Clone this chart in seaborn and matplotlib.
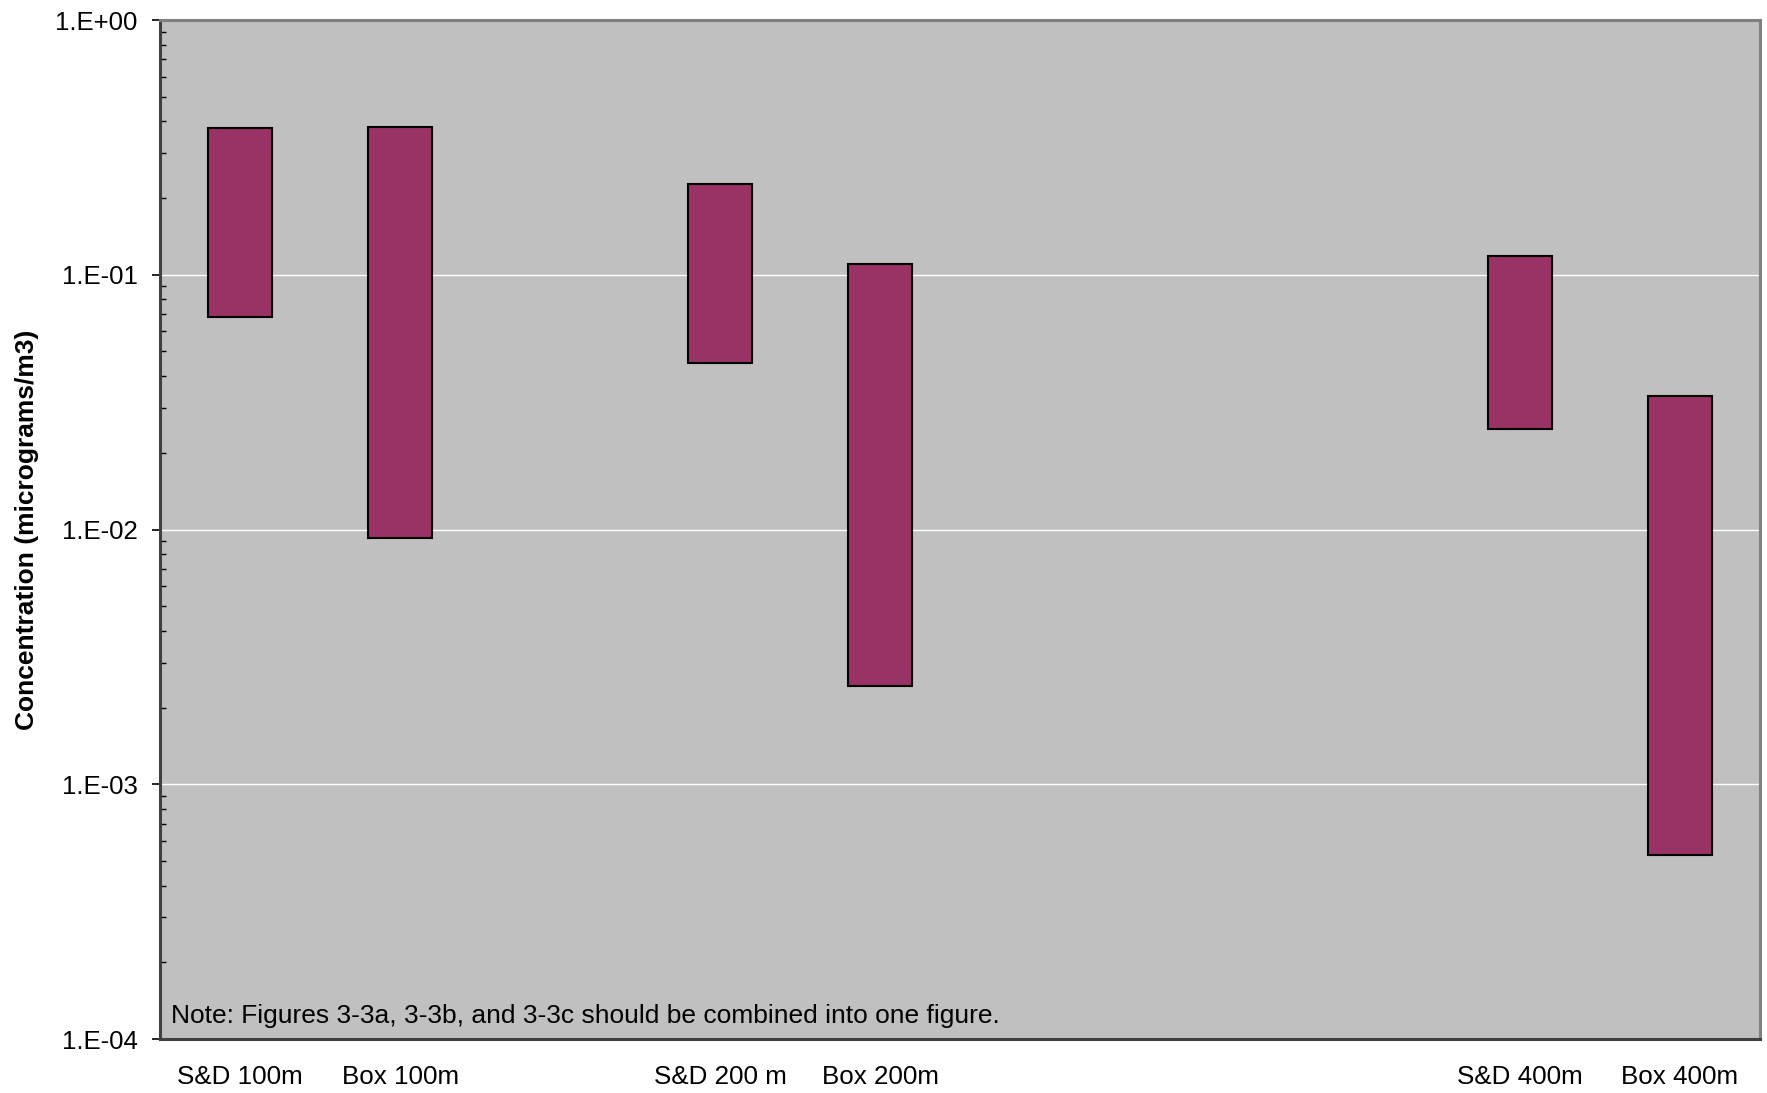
import matplotlib
matplotlib.use("Agg")
import matplotlib.pyplot as plt
import matplotlib.ticker as mticker
import seaborn as sns
import pandas as pd
import numpy as np

# Data
categories = ["S&D 100m", "Box 100m", " ", "S&D 200 m", "Box 200m", "  ", "   ", "    ", "S&D 400m", "Box 400m"]
bar_labels = ["S&D 100m", "Box 100m", "S&D 200 m", "Box 200m", "S&D 400m", "Box 400m"]
high_values = [0.376, 0.380, 0.228, 0.110, 0.118, 0.0333]
low_values = [0.068, 0.0093, 0.0452, 0.00243, 0.0248, 0.000526]
ytick_values = [1e-4, 1e-3, 1e-2, 1e-1, 1e0]
ytick_labels = ["1.E-04", "1.E-03", "1.E-02", "1.E-01", "1.E+00"]
note_text = "Note: Figures 3-3a, 3-3b, and 3-3c should be combined into one figure."
ylabel_text = "Concentration (micrograms/m3)"

sns.set_theme(style="white")
plt.rcParams["font.family"] = ["Liberation Sans", "DejaVu Sans"]
plt.rcParams["text.color"] = "black"
plt.rcParams["axes.labelcolor"] = "black"
plt.rcParams["xtick.color"] = "black"
plt.rcParams["ytick.color"] = "black"

df = pd.DataFrame({
    "cat": bar_labels,
    "height": np.array(high_values) - np.array(low_values),
})

fig = plt.figure(figsize=(17.67, 10.93), dpi=100)
ax = fig.add_axes([0.0906, 0.0494, 0.996 - 0.0906, 0.9817 - 0.0494])
ax.set_facecolor("#C0C0C0")

sns.barplot(data=df, x="cat", y="height", order=categories, bottom=low_values,
            color="#993366", saturation=1, width=0.40, errorbar=None,
            edgecolor="black", linewidth=1.5, ax=ax, zorder=3)

ax.set_yscale("log")
ax.set_ylim(1e-4, 1e0)
ax.set_xlim(-0.5, len(categories) - 0.5)
ax.set_yticks(ytick_values)
ax.set_yticklabels(ytick_labels)
ax.yaxis.set_minor_locator(mticker.LogLocator(base=10, subs=np.arange(2, 10)))
ax.yaxis.set_minor_formatter(mticker.NullFormatter())
ax.tick_params(axis="y", which="major", direction="out", length=6, width=1.2,
               color="black", labelcolor="black", labelsize=18.5, pad=10, left=True)
ax.tick_params(axis="y", which="minor", direction="in", length=4.5, width=1.0,
               color="black", left=True)
ax.tick_params(axis="x", length=0, labelsize=18.7, labelcolor="black", pad=19)

ax.grid(False)
for yv in ytick_values:
    ax.axhline(yv, color="white", linewidth=1.0, zorder=1)

ax.set_xlabel("")
ax.set_ylabel(ylabel_text, fontsize=19, fontweight="bold", labelpad=12, color="black")

for side in ["left", "bottom"]:
    ax.spines[side].set_color("#404040")
    ax.spines[side].set_linewidth(2.2)
for side in ["top", "right"]:
    ax.spines[side].set_color("#808080")
    ax.spines[side].set_linewidth(2.2)

ax.text(0.007, 0.011, note_text, transform=ax.transAxes, fontsize=19,
        ha="left", va="bottom", color="black", zorder=4)

fig.savefig("out.png", dpi=100)
